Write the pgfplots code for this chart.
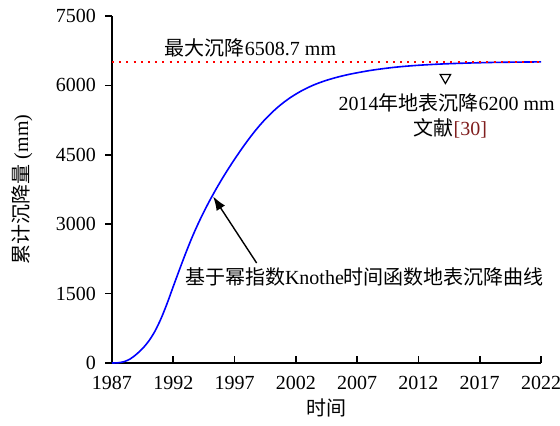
\documentclass[border=0pt]{standalone}
\usepackage{fontspec}
\setmainfont{Liberation Serif}
\newfontfamily\cjk{Noto Sans CJK SC}
\usepackage{pgfplots}
\pgfplotsset{compat=1.18}
\usetikzlibrary{arrows.meta}
\definecolor{refred}{RGB}{128,30,30}
\begin{document}
\begin{tikzpicture}
\begin{axis}[
  scale only axis, width=214.5pt, height=173.5pt,
  xmin=1987, xmax=2022, ymin=0, ymax=7500,
  axis x line*=bottom, axis y line*=left,
  axis line style={line width=0.9pt},
  xtick={1987,1992,...,2022}, ytick={0,1500,...,7500},
  xtick align=inside, ytick align=outside,
  major tick length=3.5pt,
  tick style={line width=0.8pt, black},
  xticklabel style={yshift=-3pt},
  yticklabel style={xshift=-1pt},
  /pgf/number format/assume math mode=true,
  /pgf/number format/set thousands separator={},
  xlabel={\cjk 时间}, ylabel={{\cjk 累计沉降量} (mm)},
  x label style={at={(axis description cs:0.5,-0.13)},anchor=center},
  y label style={at={(axis description cs:-0.21,0.5)},anchor=center},
  clip=false,
]
\addplot[blue, line width=0.8pt, smooth] coordinates {
(1987,0) (1987.5,5) (1988,30) (1988.5,90) (1989,190) (1989.5,315) (1990,475)
(1990.5,685) (1991,960) (1991.5,1290) (1992,1655) (1992.5,2015) (1993,2365)
(1993.5,2695) (1994,2995) (1994.5,3270) (1995,3525) (1995.5,3763) (1996,3988)
(1996.5,4201) (1997,4403) (1997.5,4598) (1998,4783) (1998.5,4958) (1999,5120)
(1999.5,5268) (2000,5402) (2000.5,5523) (2001,5631) (2001.5,5727) (2002,5812)
(2002.5,5888) (2003,5955) (2003.5,6014) (2004,6065) (2004.5,6110) (2005,6150)
(2005.5,6186) (2006,6218) (2006.5,6247) (2007,6273) (2008,6320) (2009,6358)
(2010,6390) (2011,6415) (2012,6435) (2013,6451) (2014,6464) (2015,6474)
(2016,6483) (2017,6490) (2018,6496) (2019,6500) (2020,6503) (2021,6506) (2022,6508)
};
\addplot[red, line width=1pt, dash pattern=on 1pt off 2.6pt] coordinates {(1987,6508.7) (2022,6508.7)};
\addplot[only marks, mark=triangle, mark size=3pt, mark options={rotate=180, line width=0.6pt, black}] coordinates {(2014.2,6170)};
\node[anchor=center] at (axis cs:1998.3,6808) {{\cjk 最大沉降}6508.7 mm};
\node[anchor=center] at (axis cs:2014.3,5620) {2014{\cjk 年地表沉降}6200 mm};
\node[anchor=center] at (axis cs:2014.6,5079) {{\cjk 文献}\textcolor{refred}{[30]}};
\node[anchor=center] at (axis cs:2007.6,1859) {{\cjk 基于幂指数}Knothe{\cjk 时间函数地表沉降曲线}};
\draw[-{Latex[length=7pt,width=5pt]}, line width=0.7pt] (axis cs:1998.8,2161) -- (axis cs:1995.25,3600);
\end{axis}
\pgfresetboundingbox
\path (-56pt,-31.5pt) rectangle (224pt,181.5pt);
\end{tikzpicture}
\end{document}
